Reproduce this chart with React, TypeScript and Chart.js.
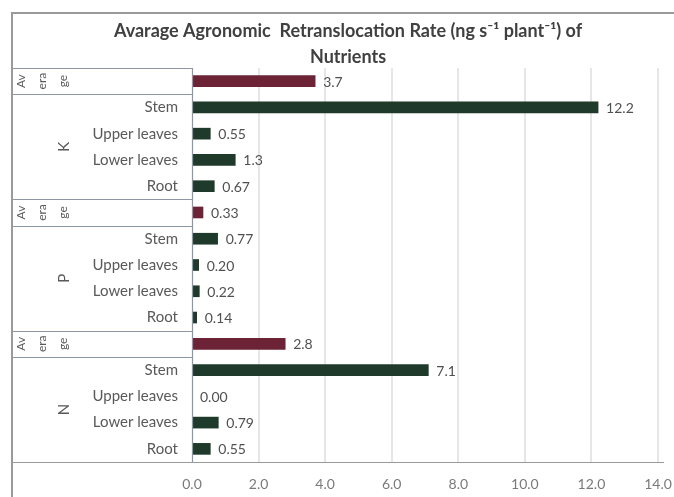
import React, { useEffect, useRef } from "react";
import { Chart, registerables } from "chart.js";

Chart.register(...registerables);

const titleLines = [
  "Avarage Agronomic  Retranslocation Rate (ng s\u207B\u00B9 plant\u207B\u00B9) of",
  "Nutrients",
];
const groups = ["K", "P", "N"];
const parts = ["Stem", "Upper leaves", "Lower leaves", "Root"];
const averageLabel = ["Av", "era", "ge"];
// values per group: [Average, Stem, Upper leaves, Lower leaves, Root]
const kValues = [3.7, 12.2, 0.55, 1.3, 0.67];
const pValues = [0.33, 0.77, 0.2, 0.22, 0.14];
const nValues = [2.8, 7.1, 0.0, 0.79, 0.55];
const kLabels = ["3.7", "12.2", "0.55", "1.3", "0.67"];
const pLabels = ["0.33", "0.77", "0.20", "0.22", "0.14"];
const nLabels = ["2.8", "7.1", "0.00", "0.79", "0.55"];
const xTicks = [0, 2, 4, 6, 8, 10, 12, 14];

const AVG_COLOR = "#6d2336";
const PART_COLOR = "#1f3a2b";
const FONT = "Lato, 'Open Sans', sans-serif";

export default function App() {
  const ref = useRef<HTMLCanvasElement | null>(null);

  useEffect(() => {
    document.body.style.margin = "0";
    const groupVals = [kValues, pValues, nValues];
    const groupLbls = [kLabels, pLabels, nLabels];
    const categories: string[] = [];
    const values: number[] = [];
    const valueLabels: string[] = [];
    const colors: string[] = [];
    const isAvg: boolean[] = [];
    groups.forEach((g, gi) => {
      categories.push(g + " Average");
      values.push(groupVals[gi][0]);
      valueLabels.push(groupLbls[gi][0]);
      colors.push(AVG_COLOR);
      isAvg.push(true);
      parts.forEach((p, pi) => {
        categories.push(g + " " + p);
        values.push(groupVals[gi][pi + 1]);
        valueLabels.push(groupLbls[gi][pi + 1]);
        colors.push(PART_COLOR);
        isAvg.push(false);
      });
    });

    const decor = {
      id: "decor",
      afterDraw(chart: any) {
        const ctx = chart.ctx as CanvasRenderingContext2D;
        const area = chart.chartArea;
        const y = chart.scales.y;
        const x = chart.scales.x;
        const W = chart.width;
        ctx.save();
        // outer frame
        ctx.strokeStyle = "#9a9a9a";
        ctx.lineWidth = 2;
        ctx.beginPath();
        ctx.moveTo(12, chart.height);
        ctx.lineTo(12, 13);
        ctx.lineTo(W, 13);
        ctx.stroke();

        // title
        ctx.fillStyle = "#404040";
        ctx.font = "bold 18px " + FONT;
        ctx.textAlign = "center";
        ctx.textBaseline = "middle";
        ctx.fillText(titleLines[0], 348, 31);
        ctx.fillText(titleLines[1], 348, 57);

        // category boxes
        const n = categories.length;
        const step = y.getPixelForValue(1) - y.getPixelForValue(0);
        const top = (i: number) => y.getPixelForValue(i) - step / 2;
        ctx.strokeStyle = "#8c96a6";
        ctx.lineWidth = 1.2;
        const boundaries: number[] = [];
        for (let i = 0; i < n; i++) {
          if (isAvg[i] || (i > 0 && isAvg[i - 1])) boundaries.push(i);
        }
        boundaries.push(n);
        ctx.beginPath();
        boundaries.forEach((b) => {
          const yy = Math.round(top(b)) + 0.5;
          ctx.moveTo(13, yy);
          ctx.lineTo(area.left, yy);
        });
        ctx.moveTo(area.left + 0.5, area.top);
        ctx.lineTo(area.left + 0.5, area.bottom);
        ctx.stroke();

        // x axis line
        ctx.strokeStyle = "#9a9a9a";
        ctx.beginPath();
        ctx.moveTo(13, Math.round(area.bottom) + 0.5);
        ctx.lineTo(area.right + 6, Math.round(area.bottom) + 0.5);
        ctx.stroke();

        // labels
        ctx.fillStyle = "#595959";
        for (let i = 0; i < n; i++) {
          const cy = y.getPixelForValue(i);
          if (isAvg[i]) {
            ctx.font = "12px " + FONT;
            averageLabel.forEach((t, k) => {
              ctx.save();
              ctx.translate(21 + k * 21, cy);
              ctx.rotate(-Math.PI / 2);
              ctx.textAlign = "center";
              ctx.textBaseline = "middle";
              ctx.fillText(t, 0, 0);
              ctx.restore();
            });
          } else {
            ctx.font = "15px " + FONT;
            ctx.textAlign = "right";
            ctx.textBaseline = "middle";
            ctx.fillText(parts[(i % 5) - 1], area.left - 14, cy);
          }
        }
        ctx.font = "15px " + FONT;
        groups.forEach((g, gi) => {
          const first = gi * 5 + 1;
          const last = gi * 5 + 4;
          const cy = (y.getPixelForValue(first) + y.getPixelForValue(last)) / 2;
          ctx.save();
          ctx.translate(64, cy);
          ctx.rotate(-Math.PI / 2);
          ctx.textAlign = "center";
          ctx.textBaseline = "middle";
          ctx.fillText(g, 0, 0);
          ctx.restore();
        });

        // value labels
        ctx.fillStyle = "#505050";
        ctx.font = "14px " + FONT;
        ctx.textAlign = "left";
        ctx.textBaseline = "middle";
        for (let i = 0; i < n; i++) {
          const px = x.getPixelForValue(values[i]);
          ctx.fillText(valueLabels[i], px + 8, y.getPixelForValue(i) + 1);
        }
        ctx.restore();
      },
    };

    const chart = new Chart(ref.current as HTMLCanvasElement, {
      type: "bar",
      data: {
        labels: categories,
        datasets: [
          {
            data: values,
            backgroundColor: colors,
            barThickness: 11,
            borderWidth: 0,
          },
        ],
      },
      options: {
        indexAxis: "y",
        animation: false,
        responsive: false,
        maintainAspectRatio: false,
        layout: { padding: { left: 192, top: 68, right: 16, bottom: 6 } },
        plugins: {
          legend: { display: false },
          title: { display: false },
          tooltip: { enabled: false },
        },
        scales: {
          y: {
            display: false,
          },
          x: {
            min: 0,
            max: 14,
            afterBuildTicks: (axis: any) => {
              axis.ticks = xTicks.map((v) => ({ value: v }));
            },
            afterFit: (axis: any) => {
              axis.height = 29;
              axis.paddingLeft = 0;
              axis.paddingRight = 0;
            },
            ticks: {
              padding: 14,
              color: "#7a7a7a",
              font: { size: 14, family: FONT },
              maxRotation: 0,
              callback: (v: any) => Number(v).toFixed(1),
            },
            grid: {
              color: (c: any) => (c.index === 0 ? "rgba(0,0,0,0)" : "#e6e6e6"),
              drawTicks: false,
              lineWidth: 2,
            },
            border: { display: false },
          },
        },
      },
      plugins: [decor],
    });
    return () => chart.destroy();
  }, []);

  return (
    <div style={{ width: 674, height: 497, background: "#fff" }}>
      <canvas ref={ref} width={674} height={497} style={{ display: "block" }} />
    </div>
  );
}
